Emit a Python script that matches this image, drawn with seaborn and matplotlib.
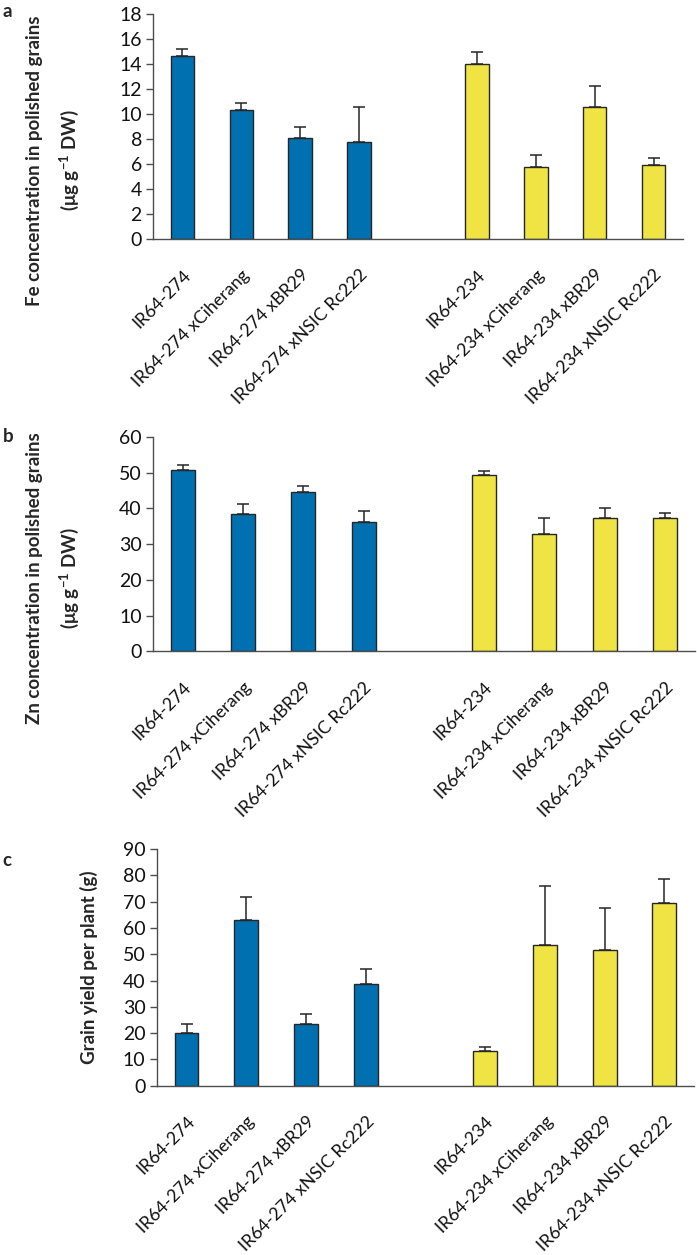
import numpy as np
import pandas as pd
import matplotlib
matplotlib.use("Agg")
import matplotlib.pyplot as plt
import seaborn as sns

# category names (blue group, gap, yellow group)
lines_274 = ["IR64-274", "IR64-274 xCiherang", "IR64-274 xBR29", "IR64-274 xNSIC Rc222"]
lines_234 = ["IR64-234", "IR64-234 xCiherang", "IR64-234 xBR29", "IR64-234 xNSIC Rc222"]
order = lines_274 + [" "] + lines_234

# panel a: Fe
fe_mean = [14.7, 10.35, 8.1, 7.75, 14.0, 5.75, 10.55, 5.9]
fe_err = [0.55, 0.55, 0.9, 2.85, 1.0, 0.95, 1.7, 0.55]
# panel b: Zn
zn_mean = [50.6, 38.3, 44.6, 36.3, 49.3, 32.9, 37.3, 37.3]
zn_err = [1.6, 2.9, 1.5, 3.0, 1.1, 4.3, 2.8, 1.4]
# panel c: grain yield
gy_mean = [20.15, 63.0, 23.6, 38.5, 13.1, 53.4, 51.5, 69.5]
gy_err = [3.4, 8.9, 3.8, 5.9, 1.5, 22.5, 15.9, 9.2]

blue = "#0070B0"
yellow = "#EFE443"
palette = {l: blue for l in lines_274}
palette.update({l: yellow for l in lines_234})

sns.set_style("white")
plt.rcParams["font.family"] = ["Lato", "DejaVu Sans"]
plt.rcParams["mathtext.fontset"] = "custom"
plt.rcParams["mathtext.bf"] = "Lato:bold"
plt.rcParams["mathtext.rm"] = "Lato"

axis_col = "#4d4d4d"
edge_col = "#262626"

fig = plt.figure(figsize=(6.97, 12.55), dpi=100)

panels = [
    ("a", fe_mean, fe_err, 18, 2,
     "Fe concentration in polished grains\n(μg g$^{\\mathbf{-1}}$ DW)",
     [0.2195, 0.8096, 0.7604, 0.1789], (-0.135, 0.35), 0.998),
    ("b", zn_mean, zn_err, 60, 10,
     "Zn concentration in polished grains\n(μg g$^{\\mathbf{-1}}$ DW)",
     [0.2191, 0.4810, 0.7780, 0.1710], (-0.132, 0.34), 0.659),
    ("c", gy_mean, gy_err, 90, 10,
     "Grain yield per plant (g)",
     [0.2248, 0.1349, 0.7713, 0.1886], (-0.109, 0.5), 0.321),
]

for letter, means, errs, ymax, step, ylabel, rect, lab_xy, let_y in panels:
    ax = fig.add_axes(rect)
    df = pd.DataFrame({"line": lines_274 + lines_234, "value": means})
    sns.barplot(data=df, x="line", y="value", hue="line", order=order,
                palette=palette, saturation=1, width=0.4, edgecolor=edge_col,
                linewidth=1.0, errorbar=None, legend=False, ax=ax)
    xpos = [order.index(l) for l in df["line"]]
    ax.errorbar(xpos, df["value"], yerr=[np.zeros(len(errs)), errs], fmt="none",
                ecolor=edge_col, elinewidth=1.1, capsize=4, capthick=1.1, zorder=1)

    ax.set_xlim(-0.5, len(order) - 0.5)
    ax.set_ylim(0, ymax)
    ax.set_yticks(np.arange(0, ymax + step / 2, step))
    ax.set_xticks(range(len(order)))
    ax.set_xticks(np.arange(-0.5, len(order), 1), minor=True)
    ax.set_xticklabels(order)
    for lab in ax.get_xticklabels():
        lab.set_rotation(45)
        lab.set_ha("right")
        lab.set_rotation_mode("anchor")
    ax.tick_params(axis="x", which="major", length=0, pad=20, labelsize=12.8,
                   labelcolor="#111111")
    ax.tick_params(axis="x", which="minor", length=6, width=1, color=axis_col,
                   direction="out")
    ax.tick_params(axis="y", length=5, width=1, color=axis_col, direction="out",
                   left=True, labelsize=14, labelcolor="#111111", pad=3)

    sns.despine(ax=ax)
    for sp in ("left", "bottom"):
        ax.spines[sp].set_color(axis_col)
        ax.spines[sp].set_linewidth(1)

    ax.set_xlabel("")
    ax.set_ylabel(ylabel, fontsize=13.5, fontweight="bold", linespacing=1.75)
    ax.yaxis.set_label_coords(*lab_xy)

    fig.text(0.004, let_y, letter, fontsize=13.5, fontweight="bold",
             va="top", ha="left")

fig.savefig("out.png", dpi=100)
